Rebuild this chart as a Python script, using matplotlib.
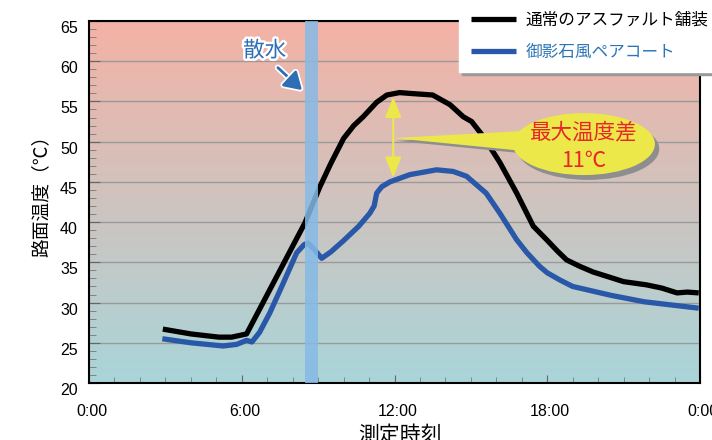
import numpy as np
import matplotlib
matplotlib.use('Agg')
import matplotlib.pyplot as plt
from matplotlib.patches import Ellipse, Polygon
from matplotlib.transforms import ScaledTranslation
import matplotlib.patheffects as pe

plt.rcParams['font.family'] = ['Noto Sans CJK JP', 'DejaVu Sans']

# 通常のアスファルト舗装 : 時刻(h), 路面温度(℃)
asphalt_h = [2.9, 4.0, 5.1, 5.6, 6.19, 8.48, 9.07, 9.5, 10.0, 10.4, 10.77, 11.3, 11.7,
             12.2, 12.6, 13.5, 14.18, 14.7, 15.03, 15.5, 16.14, 16.8, 17.45, 17.98,
             18.4, 18.76, 19.28, 19.8, 21.0, 21.9, 22.5, 23.1, 23.5, 23.95]
asphalt_t = [26.7, 26.1, 25.7, 25.7, 26.1, 39.9, 44.4, 47.3, 50.4, 52.0, 53.1, 54.9, 55.8,
             56.1, 56.0, 55.8, 54.6, 53.1, 52.5, 50.6, 47.4, 43.6, 39.5, 37.8,
             36.4, 35.3, 34.5, 33.8, 32.6, 32.2, 31.8, 31.2, 31.3, 31.2]

# 御影石風ペアコート
coat_h = [2.88, 4.0, 5.27, 5.8, 6.19, 6.4, 6.7, 7.1, 7.6, 8.16, 8.45, 8.6, 8.85, 9.14,
          9.5, 10.0, 10.6, 11.03, 11.2, 11.3, 11.5, 11.82, 12.6, 13.65, 14.3, 14.83,
          15.6, 16.14, 16.8, 17.2, 17.7, 18.0, 18.5, 19.0, 20.5, 21.8, 23.95]
coat_t = [25.5, 25.0, 24.6, 24.8, 25.3, 25.1, 26.3, 28.7, 32.2, 36.2, 37.2, 37.4, 36.6, 35.5,
          36.3, 37.7, 39.5, 41.1, 42.0, 43.6, 44.4, 45.0, 45.9, 46.5, 46.3, 45.7,
          43.6, 41.1, 37.8, 36.2, 34.5, 33.7, 32.8, 32.0, 30.9, 30.1, 29.3]

x_ticks = [0, 6, 12, 18, 24]
x_labels = ['0:00', '6:00', '12:00', '18:00', '0:00']
y_ticks = list(range(20, 70, 5))
water = (8.5, 9.0)           # 散水
diff_x, diff_top, diff_bottom = 11.95, 55.6, 45.5

fig = plt.figure(figsize=(7.12, 4.4), dpi=100)
ax = fig.add_axes([89/712, 57/440, 611/712, 362/440])

# 背景グラデーション
top = np.array([245, 178, 165]) / 255
bot = np.array([169, 213, 217]) / 255
g = np.linspace(0, 1, 256)[:, None]
grad = top * (1 - g) + bot * g
ax.imshow(grad[:, None, :], extent=(0, 24, 20, 65), aspect='auto', origin='upper', zorder=0)

ax.set_xlim(0, 24)
ax.set_ylim(20, 65)
ax.set_yticks(y_ticks)
ax.set_yticks(np.arange(20, 66, 1), minor=True)
ax.set_xticks(x_ticks)
ax.set_xticks(np.arange(0, 25, 1), minor=True)
ax.set_xticklabels(x_labels, fontfamily='Liberation Sans')
ax.set_yticklabels([str(v) for v in y_ticks], fontfamily='Liberation Sans')
ax.yaxis.grid(True, color='#9a9a9a', lw=1)
ax.set_axisbelow(True)

ax.tick_params(axis='y', which='major', direction='in', length=8, width=0.8, color='#666666',
               labelsize=11.5, pad=8)
ax.tick_params(axis='y', which='minor', direction='in', length=5, width=0.6, color='#777777')
ax.tick_params(axis='x', which='major', direction='in', length=6, width=0.8, color='#666666',
               labelsize=11.5, pad=15)
ax.tick_params(axis='x', which='minor', direction='in', length=4, width=0.6, color='#777777')
for lab in ax.get_yticklabels():
    lab.set_transform(lab.get_transform() + ScaledTranslation(0, -6/100, fig.dpi_scale_trans))
for lab in ax.get_xticklabels():
    lab.set_transform(lab.get_transform() + ScaledTranslation(3/100, 0, fig.dpi_scale_trans))

for s in ax.spines.values():
    s.set_color('black')
    s.set_linewidth(1.5)

ax.plot(asphalt_h, asphalt_t, color='black', lw=3.8, zorder=3,
        solid_joinstyle='round', solid_capstyle='butt', label='通常のアスファルト舗装')
ax.plot(coat_h, coat_t, color='#2A58A8', lw=3.8, zorder=3,
        solid_joinstyle='round', solid_capstyle='butt', label='御影石風ペアコート')

ax.axvspan(water[0], water[1], color='#86BAE6', alpha=0.85, lw=0, zorder=4)

# 散水
stroke = [pe.withStroke(linewidth=3.5, foreground='white')]
ax.text(6.9, 61.3, '散水', ha='center', va='center', fontsize=15.5, color='#2E6EB5',
        path_effects=stroke, zorder=6)
ax.annotate('', xy=(8.37, 56.4), xytext=(7.42, 59.2),
            arrowprops=dict(arrowstyle='-|>,head_length=0.65,head_width=0.4', color='#2E6EB5',
                            lw=2, mutation_scale=16, shrinkA=0, shrinkB=0,
                            path_effects=[pe.withStroke(linewidth=4.5, foreground='white')]),
            zorder=6)

# 最大温度差
yel = '#ECE84A'
ax.annotate('', xy=(diff_x, diff_top), xytext=(diff_x, diff_bottom),
            arrowprops=dict(arrowstyle='<|-|>,head_length=0.9,head_width=0.35', color=yel,
                            lw=1.5, mutation_scale=14, shrinkA=0, shrinkB=0), zorder=7)
tail = [(diff_x, 50.45), (16.9, 51.3), (16.9, 48.9)]
ax.add_patch(Polygon([(x + 0.12, y - 0.35) for x, y in tail], closed=True, fc='#8e8e8e',
                     ec='none', zorder=6))
ax.add_patch(Polygon(tail, closed=True, fc=yel, ec='none', zorder=7))
ax.add_patch(Ellipse((19.44 + 0.17, 49.7 - 0.6), 5.58, 7.7, fc='#8e8e8e', ec='none', zorder=6))
ax.add_patch(Ellipse((19.44, 49.7), 5.58, 7.7, fc=yel, ec='none', zorder=8))
ax.text(19.44, 51.2, '最大温度差', ha='center', va='center', fontsize=15.5, color='#E8262B', zorder=9)
ax.text(19.44, 47.6, '11℃', ha='center', va='center', fontsize=15.5, color='#E8262B', zorder=9)

ax.set_ylabel('路面温度（℃）', fontsize=13.5)
ax.yaxis.set_label_coords(-0.062, 0.528)
ax.set_xlabel('測定時刻', fontsize=15)
ax.xaxis.set_label_coords(0.509, -0.113)

leg = ax.legend(loc='upper left', bbox_to_anchor=(459/712, 1.0), bbox_transform=fig.transFigure,
                frameon=True, fancybox=False, shadow={'color': '#999999', 'alpha': 1},
                edgecolor='white', framealpha=1, borderaxespad=0, fontsize=12,
                handlelength=2.7, labelspacing=0.9, handletextpad=0.6, borderpad=0.7)
leg.get_texts()[1].set_color('#2E75B6')
leg.set_zorder(20)

fig.savefig('out.png', dpi=100)
